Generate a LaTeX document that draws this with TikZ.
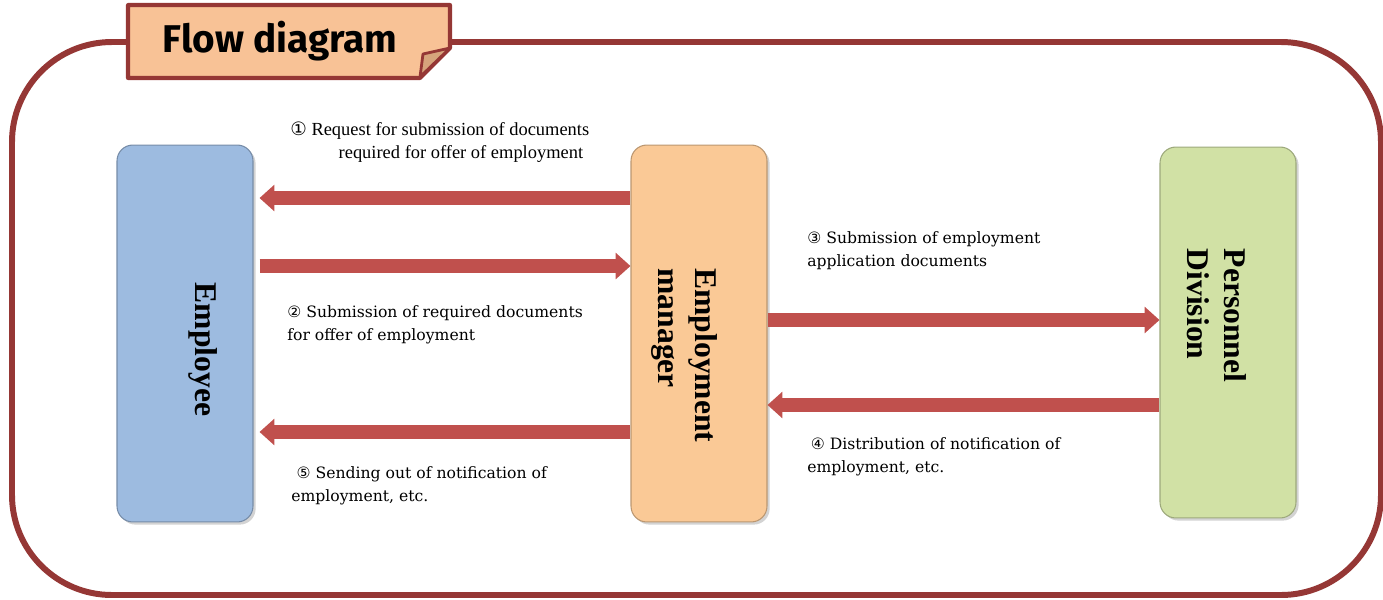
\documentclass[tikz,border=0pt]{standalone}
\usepackage{graphicx}
\usepackage{fontspec}
\setmainfont{Liberation Serif}
\newfontfamily\labelfont{DejaVu Serif}
\newfontfamily\numfont{DejaVu Sans}
\newfontfamily\titlefont{Fira Sans}
\usetikzlibrary{arrows.meta,shadows}
\definecolor{framered}{HTML}{953735}
\definecolor{tagfill}{HTML}{F8C296}
\definecolor{foldfill}{HTML}{D6A47C}
\definecolor{arrowred}{HTML}{C0504D}
\definecolor{empblue}{HTML}{9DBBE0}
\definecolor{mgrorange}{HTML}{FAC996}
\definecolor{persgreen}{HTML}{D1E1A5}

\begin{document}
\begin{tikzpicture}[x=0.02cm,y=-0.02cm,
    box/.style={rectangle,rounded corners=9pt,minimum width=2.72cm,
                minimum height=7.54cm,inner sep=0pt,fill=#1,
                draw=#1!75!black,line width=0.6pt,
                drop shadow={shadow xshift=1.5pt,shadow yshift=-1.5pt,opacity=0.35},
                font=\bfseries\fontsize{18}{21}\selectfont},
    flow/.style={draw=arrowred,line width=8pt,
                 -{Triangle[length=8.5pt,width=14.7pt]}},
    note/.style={anchor=north west,inner sep=0pt,align=left,
                 font=\labelfont\fontsize{8.9}{13}\selectfont},
    frame/.style={draw=framered,line width=3.4pt,rounded corners=2cm}]

  \useasboundingbox (0,0) rectangle (1383,599);

  % outer frame and title tag
  \draw[frame] (12,42) rectangle (1381,595);
  \filldraw[fill=tagfill,draw=framered,line width=2.3pt,line join=round]
    (128,5) -- (450,5) -- (450,48) -- (420,78) -- (128,78) -- cycle;
  \filldraw[fill=foldfill,draw=framered,line width=1.6pt,line join=round]
    (420,77) -- (423,54) -- (450,48) -- cycle;
  \node (T) at (280,41) {\titlefont\bfseries\fontsize{22}{22}\selectfont Flow diagram};

  % boxes
  \node[box=empblue]   (E) at (185,333.5)
    {\hspace*{0.72cm}\rotatebox{-90}{\hspace*{0.64cm}Employee}};
  \node[box=mgrorange] (M) at (699,333.5)
    {\rotatebox{-90}{\hspace*{0.88cm}\begin{tabular}{@{}l@{}}Employment\\manager\end{tabular}}\hspace*{0.6cm}};
  \node[box=persgreen, minimum height=7.42cm] (P) at (1228,332.5)
    {\rotatebox{-90}{\begin{tabular}{@{}l@{}}Personnel\\Division\end{tabular}\hspace*{0.68cm}}\hspace*{0.6cm}};

  % arrows
  \draw[flow,shorten >=0.12cm] ([yshift=2.71cm]M.west) -- ([yshift=2.71cm]E.east);
  \draw[flow,shorten <=0.12cm] ([yshift=1.35cm]E.east) -- ([yshift=1.35cm]M.west);
  \draw[flow,shorten >=0.12cm] ([yshift=-1.97cm]M.west) -- ([yshift=-1.97cm]E.east);
  \draw[flow] ([yshift=0.27cm]M.east) -- ([yshift=0.27cm]M.east -| P.west);
  \draw[flow] ([yshift=-1.43cm]M.east -| P.west) -- ([yshift=-1.43cm]M.east);

  % labels
  \node[note,font=\fontsize{10.5}{13}\selectfont] (l1) at (290,122)
    {{\numfont ①} Request for submission of documents\\\hspace*{27.5pt}required for offer of employment};
  \node[note] (l2) at (287,305) {{\numfont ②} Submission of required documents\\for offer of employment};
  \node[note] (l3) at (807,231) {{\numfont ③} Submission of employment\\application documents};
  \node[note] (l4) at (807,437) {\hspace*{2pt}{\numfont ④} Distribution of notification of\\employment, etc.};
  \node[note] (l5) at (291,466) {\hspace*{3pt}{\numfont ⑤} Sending out of notification of\\employment, etc.};
\end{tikzpicture}
\end{document}
